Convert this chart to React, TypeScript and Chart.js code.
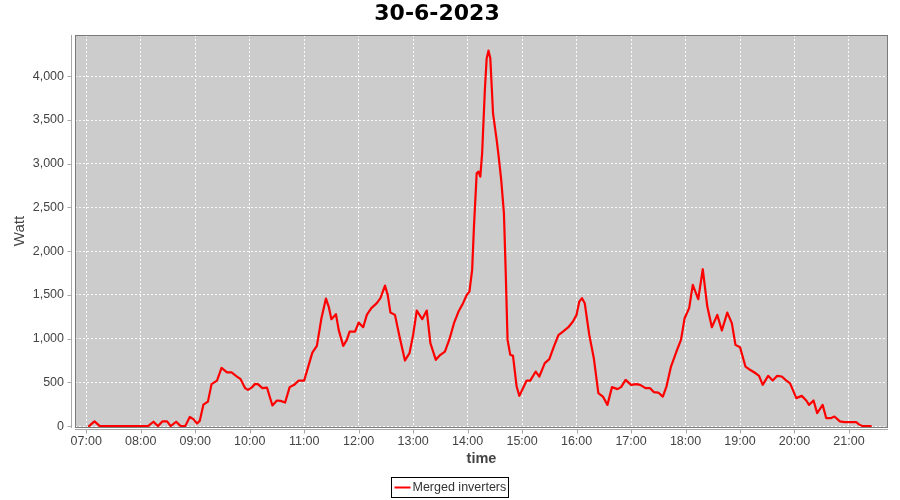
import React, { useEffect, useRef } from "react";
import { Chart, registerables } from "chart.js";

Chart.register(...registerables);

const chartTitle = "30-6-2023";
const seriesName = "Merged inverters";
const xAxisTitle = "time";
const yAxisTitle = "Watt";

const times = [
  "07:03", "07:09", "07:15", "08:08", "08:14", "08:19", "08:24", "08:29", "08:33", "08:39",
  "08:44", "08:49", "08:54", "08:58", "09:02", "09:05", "09:09", "09:14", "09:18", "09:24",
  "09:29", "09:35", "09:40", "09:46", "09:50", "09:55", "09:58", "10:02", "10:06", "10:09",
  "10:14", "10:19", "10:25", "10:30", "10:34", "10:39", "10:44", "10:49", "10:54", "11:00",
  "11:04", "11:09", "11:14", "11:19", "11:24", "11:27", "11:30", "11:35", "11:38", "11:43",
  "11:47", "11:50", "11:56", "12:00", "12:05", "12:09", "12:14", "12:20", "12:24", "12:29",
  "12:32", "12:35", "12:40", "12:45", "12:51", "12:56", "13:00", "13:04", "13:10", "13:15",
  "13:19", "13:25", "13:30", "13:35", "13:40", "13:45", "13:50", "13:55", "13:59", "14:02",
  "14:05", "14:07", "14:10", "14:12", "14:14", "14:16", "14:19", "14:21", "14:23", "14:25",
  "14:28", "14:32", "14:34", "14:37", "14:40", "14:42", "14:44", "14:47", "14:50", "14:54",
  "14:57", "15:01", "15:05", "15:09", "15:15", "15:19", "15:25", "15:30", "15:35", "15:40",
  "15:45", "15:51", "15:56", "16:00", "16:03", "16:06", "16:09", "16:14", "16:19", "16:24",
  "16:29", "16:34", "16:39", "16:45", "16:49", "16:54", "17:00", "17:06", "17:10", "17:16",
  "17:21", "17:25", "17:30", "17:35", "17:39", "17:44", "17:50", "17:55", "17:59", "18:04",
  "18:08", "18:14", "18:19", "18:24", "18:29", "18:35", "18:40", "18:46", "18:51", "18:55",
  "19:00", "19:06", "19:10", "19:16", "19:21", "19:25", "19:31", "19:36", "19:41", "19:46",
  "19:51", "19:55", "19:59", "20:02", "20:08", "20:13", "20:16", "20:21", "20:25", "20:31",
  "20:35", "20:40", "20:44", "20:50", "20:55", "21:00", "21:08", "21:11", "21:15", "21:24",
];

const watts = [
  0, 55, 0, 0, 50, 0, 55, 55, 0, 50,
  0, 0, 105, 80, 30, 60, 245, 280, 480, 520,
  665, 615, 615, 567, 537, 434, 415, 440, 483, 480,
  434, 441, 236, 293, 289, 270, 446, 472, 521, 521,
  663, 841, 918, 1234, 1458, 1367, 1223, 1280, 1101, 918,
  986, 1081, 1081, 1184, 1131, 1272, 1349, 1406, 1463, 1607,
  1501, 1298, 1272, 1024, 750, 834, 1043, 1321, 1223, 1321,
  949, 758, 815, 853, 994, 1177, 1310, 1406, 1500, 1538,
  1786, 2281, 2891, 2910, 2853, 3120, 3843, 4206, 4293, 4206,
  3577, 3272, 3101, 2815, 2434, 1749, 986, 815, 803, 453,
  346, 434, 521, 521, 624, 567, 720, 766, 910, 1040,
  1081, 1131, 1196, 1272, 1424, 1463, 1406, 1043, 777, 377,
  338, 243, 446, 423, 446, 529, 472, 480, 472, 434,
  434, 389, 384, 338, 453, 681, 853, 986, 1234, 1349,
  1615, 1451, 1794, 1367, 1131, 1272, 1093, 1298, 1177, 929,
  903, 681, 651, 613, 575, 472, 575, 521, 575, 567,
  521, 491, 395, 320, 346, 293, 243, 293, 149, 243,
  91, 91, 110, 55, 45, 45, 45, 20, 0, 0,
];

const xTickLabels = [
  "07:00", "08:00", "09:00", "10:00", "11:00", "12:00", "13:00", "14:00",
  "15:00", "16:00", "17:00", "18:00", "19:00", "20:00", "21:00",
];
const yTickValues = [0, 500, 1000, 1500, 2000, 2500, 3000, 3500, 4000];

// axis ranges (minutes since midnight / watts)
const xRange = [407.6, 1303];
const yRange = [-10, 4472];

const FONT = "'Liberation Sans', Arial, sans-serif";
const TITLE_FONT = "'DejaVu Sans', sans-serif";

const toMin = (s: string) => {
  const [h, m] = s.split(":").map(Number);
  return h * 60 + m;
};
const fmtMin = (v: number) => {
  const h = Math.floor(v / 60);
  const m = Math.round(v - h * 60);
  return String(h).padStart(2, "0") + ":" + String(m).padStart(2, "0");
};

const decorPlugin = {
  id: "decor",
  beforeDraw(chart: any) {
    const { ctx, chartArea: a } = chart;
    ctx.save();
    ctx.fillStyle = "#ffffff";
    ctx.fillRect(0, 0, chart.width, chart.height);
    ctx.fillStyle = "#cccccc";
    ctx.fillRect(a.left, a.top, a.right - a.left, a.bottom - a.top);
    ctx.restore();
  },
  afterDraw(chart: any) {
    const { ctx, chartArea: a } = chart;
    const xs = chart.scales.x;
    const ys = chart.scales.y;
    ctx.save();
    // plot outline
    ctx.strokeStyle = "#7a7a7a";
    ctx.lineWidth = 1;
    ctx.strokeRect(a.left + 0.5, a.top + 0.5, a.right - a.left - 1, a.bottom - a.top);
    // offset axis lines
    ctx.strokeStyle = "#a8a8a8";
    const axX = a.left - 3.5;
    const axY = a.bottom + 2.5;
    ctx.beginPath();
    ctx.moveTo(axX, a.top);
    ctx.lineTo(axX, a.bottom + 1);
    ctx.moveTo(a.left, axY);
    ctx.lineTo(a.right, axY);
    for (const t of ys.ticks) {
      const py = Math.round(ys.getPixelForValue(t.value)) + 0.5;
      ctx.moveTo(axX - 4, py);
      ctx.lineTo(axX, py);
    }
    for (const t of xs.ticks) {
      const px = Math.round(xs.getPixelForValue(t.value)) + 0.5;
      ctx.moveTo(px, axY);
      ctx.lineTo(px, axY + 4);
    }
    ctx.stroke();

    // title
    ctx.fillStyle = "#000000";
    ctx.font = "bold 22px " + TITLE_FONT;
    ctx.textAlign = "center";
    ctx.textBaseline = "middle";
    ctx.fillText(chartTitle, 437, 14);

    // legend
    const lx = 391.5, ly = 477.5, lw = 117, lh = 20;
    ctx.fillStyle = "#ffffff";
    ctx.fillRect(lx, ly, lw, lh);
    ctx.strokeStyle = "#000000";
    ctx.lineWidth = 1;
    ctx.strokeRect(lx, ly, lw, lh);
    ctx.strokeStyle = "#ff0000";
    ctx.lineWidth = 2;
    ctx.beginPath();
    ctx.moveTo(lx + 3, ly + 10);
    ctx.lineTo(lx + 19, ly + 10);
    ctx.stroke();
    ctx.fillStyle = "#333333";
    ctx.font = "12.5px " + FONT;
    ctx.textAlign = "left";
    ctx.textBaseline = "middle";
    ctx.fillText(seriesName, lx + 21, ly + 10.5);
    ctx.restore();
  },
};

export default function App() {
  const ref = useRef<HTMLCanvasElement>(null);
  useEffect(() => {
    if (!ref.current) return;
    const data = times.map((t, i) => ({ x: toMin(t), y: watts[i] }));
    const chart = new Chart(ref.current, {
      type: "line",
      data: {
        datasets: [
          {
            label: seriesName,
            data,
            borderColor: "#ff0000",
            backgroundColor: "#ff0000",
            borderWidth: 2.2,
            borderJoinStyle: "round",
            borderCapStyle: "round",
            pointRadius: 0,
            tension: 0,
            fill: false,
          },
        ],
      },
      options: {
        responsive: false,
        animation: false,
        devicePixelRatio: 1,
        layout: { padding: { left: 0, right: 12, top: 35, bottom: 0 } },
        plugins: {
          legend: { display: false },
          title: { display: false },
          tooltip: { enabled: false },
        },
        scales: {
          x: {
            type: "linear",
            min: xRange[0],
            max: xRange[1],
            afterBuildTicks: (scale: any) => {
              scale.ticks = xTickLabels.map((l) => ({ value: toMin(l) }));
            },
            afterFit: (scale: any) => {
              scale.height = 73;
            },
            ticks: {
              autoSkip: false,
              maxRotation: 0,
              includeBounds: false,
              padding: 7,
              color: "#444444",
              font: { family: FONT, size: 12.5 },
              callback: (v: any) => fmtMin(Number(v)),
            },
            grid: {
              color: "rgba(255,255,255,0.9)",
              lineWidth: 1,
              drawTicks: false,
            },
            border: { display: false, dash: [2, 2] },
            title: {
              display: true,
              text: xAxisTitle,
              color: "#444444",
              font: { family: FONT, size: 14.5, weight: "bold" },
              padding: { top: 0, bottom: 32 },
            },
          },
          y: {
            type: "linear",
            min: yRange[0],
            max: yRange[1],
            afterBuildTicks: (scale: any) => {
              scale.ticks = yTickValues.map((v) => ({ value: v }));
            },
            afterFit: (scale: any) => {
              scale.width = 75;
            },
            ticks: {
              autoSkip: false,
              includeBounds: false,
              padding: 11,
              color: "#444444",
              font: { family: FONT, size: 12.5 },
              callback: (v: any) => Number(v).toLocaleString("en-US"),
            },
            grid: {
              color: "rgba(255,255,255,0.9)",
              lineWidth: 1,
              drawTicks: false,
            },
            border: { display: false, dash: [2, 2] },
            title: {
              display: true,
              text: yAxisTitle,
              color: "#444444",
              font: { family: FONT, size: 15 },
              padding: { top: 11, bottom: 0 },
            },
          },
        },
      },
      plugins: [decorPlugin],
    } as any);
    return () => chart.destroy();
  }, []);
  return (
    <div style={{ position: "absolute", left: 0, top: 0, width: 900, height: 500, background: "#ffffff" }}>
      <canvas ref={ref} width={900} height={500} style={{ display: "block", width: 900, height: 500 }} />
    </div>
  );
}
